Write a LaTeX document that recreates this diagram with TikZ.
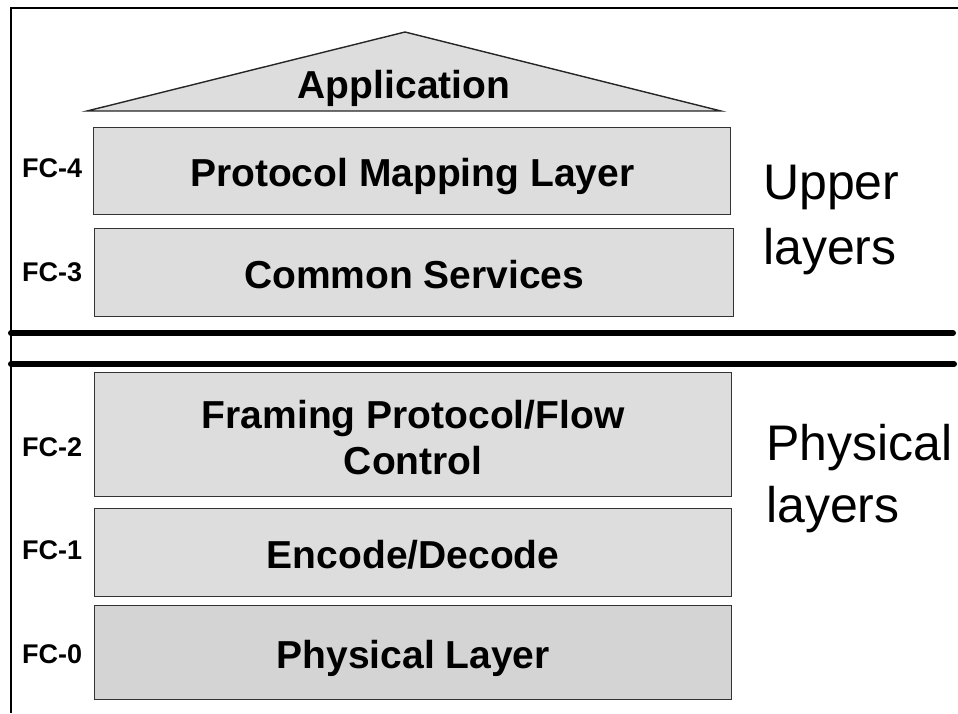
\documentclass[tikz,border=0pt]{standalone}
\usepackage{fontspec}
\setmainfont{Liberation Sans}
\begin{document}
\begin{tikzpicture}[x=1pt,y=-1pt,
  layer/.style={draw=black!80, line width=1.4pt, fill=black!13.5,
    anchor=north west, inner sep=0pt, align=center,
    font=\bfseries\fontsize{39}{46}\selectfont},
  oneline/.style={text height=31pt, text depth=0pt},
  fclabel/.style={anchor=west, inner sep=0pt,
    font=\bfseries\fontsize{27}{30}\selectfont},
  side/.style={anchor=base west, inner sep=0pt,
    font=\fontsize{50}{60}\selectfont},
  divider/.style={line width=6pt, line cap=round}]
  \useasboundingbox (0,0) rectangle (958,713);

  % frame: top and left edges
  \draw[line width=1.5pt] (958,8) -- (11,8) -- (11,713);

  % application roof
  \draw[line width=1.4pt, draw=black!85, fill=black!13.5]
    (87,111) -- (405,32) -- (721,111) -- cycle;
  \node[inner sep=0pt, text height=28pt, text depth=0pt,
    font=\bfseries\fontsize{39}{46}\selectfont] (app) at (404,84) {Application};

  % upper layers
  \node[layer, oneline, minimum width=637pt, minimum height=87pt] (fc4) at (93,127) {Protocol Mapping Layer};
  \node[layer, oneline, minimum width=639pt, minimum height=88pt] (fc3) at (94,228) {Common Services};

  % dividers between upper and physical layers
  \coordinate (d1a) at (11,333);
  \coordinate (d1b) at (953,333);
  \coordinate (d2a) at (11,364);
  \coordinate (d2b) at (954,364);
  \draw[divider] (d1a) -- (d1b);
  \draw[divider] (d2a) -- (d2b);

  % physical layers
  \node[layer, text height=79pt, text depth=0pt, minimum width=637pt, minimum height=124pt] (fc2) at (94,372) {Framing Protocol/Flow\\Control};
  \node[layer, oneline, minimum width=637pt, minimum height=88pt] (fc1) at (94,508) {Encode/Decode};
  \node[layer, oneline, fill=black!17, minimum width=637pt, minimum height=94pt] (fc0) at (94,605) {Physical Layer};

  % layer numbers
  \node[fclabel] (l4) at (22,168) {FC-4};
  \node[fclabel] (l3) at (22,272) {FC-3};
  \node[fclabel] (l2) at (22,447) {FC-2};
  \node[fclabel] (l1) at (22,550) {FC-1};
  \node[fclabel] (l0) at (22,654) {FC-0};

  % group captions
  \node[side] (upper1) at (763,199) {Upper};
  \node[side] (upper2) at (763,264) {layers};
  \node[side] (phys1) at (766,460) {Physical};
  \node[side] (phys2) at (766,522) {layers};
\end{tikzpicture}
\end{document}
